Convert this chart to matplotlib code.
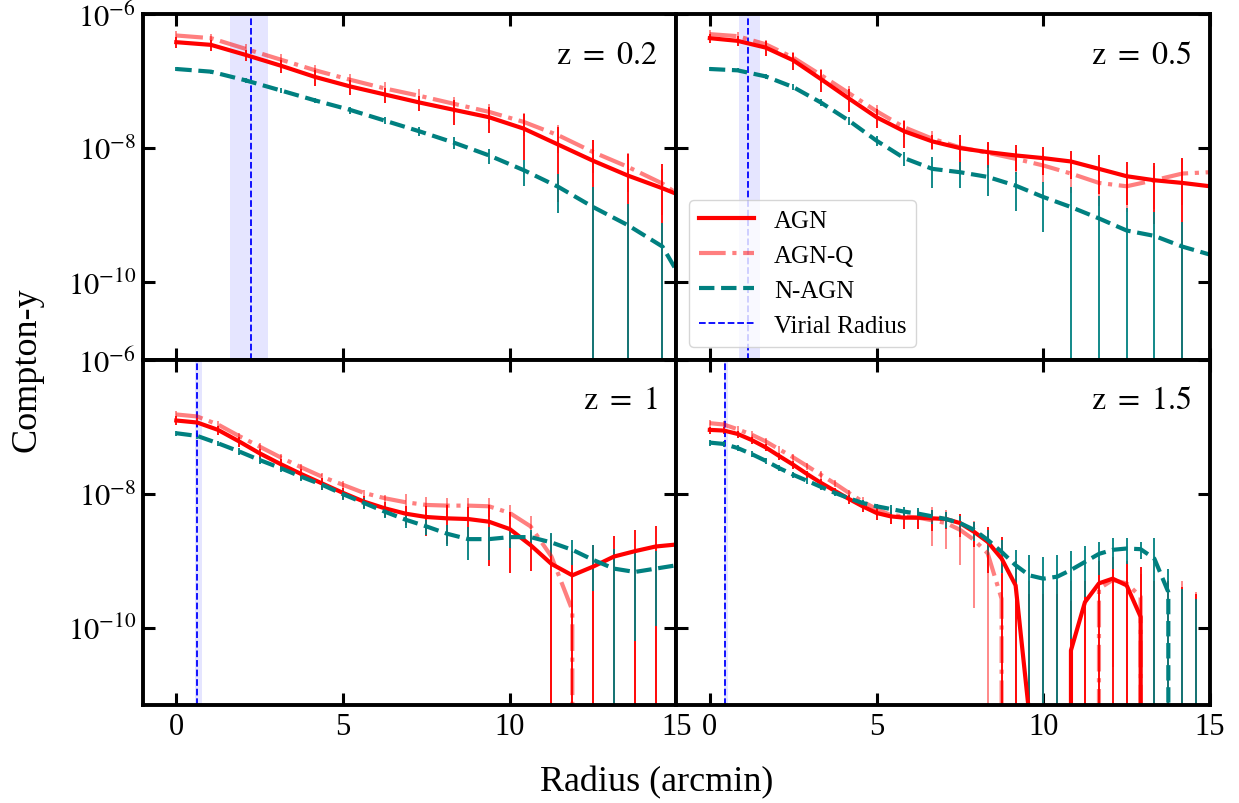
import numpy as np
import matplotlib
matplotlib.use("Agg")
import matplotlib.pyplot as plt
from matplotlib.lines import Line2D

plt.rcParams['font.family'] = ['Liberation Serif', 'DejaVu Serif']
plt.rcParams['mathtext.fontset'] = 'stix'

# redshift panels
redshifts = ['0.2', '0.5', '1', '1.5']

# radius bins (arcmin) for each panel
r_z02 = [0, 1.04, 2.08, 3.13, 4.17, 5.21, 6.25, 7.29, 8.33, 9.38, 10.42, 11.46, 12.5, 13.54, 14.58, 15.63]
r_z05 = [0, 0.83, 1.67, 2.5, 3.33, 4.17, 5.0, 5.83, 6.67, 7.5, 8.33, 9.17, 10.0, 10.83, 11.67, 12.5,
         13.33, 14.17, 15.0]
r_z1 = [0, 0.625, 1.25, 1.875, 2.5, 3.125, 3.75, 4.375, 5.0, 5.625, 6.25, 6.875, 7.5, 8.125, 8.75,
        9.375, 10.0, 10.625, 11.25, 11.875, 12.5, 13.125, 13.75, 14.375, 15.0]
r_z15 = [0, 0.42, 0.83, 1.25, 1.67, 2.08, 2.5, 2.92, 3.33, 3.75, 4.17, 4.58, 5.0, 5.42, 5.83, 6.25,
         6.67, 7.08, 7.5, 7.92, 8.33, 8.75, 9.17, 9.58, 10.0, 10.42, 10.83, 11.25, 11.67, 12.08, 12.5,
         12.92, 13.33, 13.75, 14.17, 14.58, 15.0]

nan = np.nan

# log10(Compton-y) profiles, nan = non-positive value
agn_z02 = [-6.42, -6.46, -6.61, -6.77, -6.94, -7.08, -7.20, -7.32, -7.43, -7.54, -7.71, -7.95, -8.19,
           -8.41, -8.60, -8.81]
agnq_z02 = [-6.32, -6.36, -6.52, -6.68, -6.84, -6.98, -7.11, -7.22, -7.34, -7.46, -7.61, -7.81, -8.06,
            -8.28, -8.53, -8.89]
nagn_z02 = [-6.82, -6.86, -6.99, -7.14, -7.29, -7.43, -7.59, -7.75, -7.92, -8.11, -8.33, -8.58, -8.88,
            -9.15, -9.47, -10.37]

agn_z05 = [-6.36, -6.40, -6.50, -6.69, -6.97, -7.26, -7.54, -7.75, -7.90, -8.00, -8.06, -8.11, -8.15,
           -8.20, -8.31, -8.42, -8.48, -8.52, -8.57]
agnq_z05 = [-6.30, -6.33, -6.45, -6.65, -6.91, -7.18, -7.45, -7.69, -7.86, -7.99, -8.07, -8.16, -8.26,
            -8.38, -8.52, -8.57, -8.48, -8.38, -8.36]
nagn_z05 = [-6.82, -6.84, -6.93, -7.09, -7.32, -7.59, -7.89, -8.15, -8.31, -8.36, -8.43, -8.56, -8.73,
            -8.88, -9.05, -9.23, -9.31, -9.47, -9.59]

agn_z1 = [-6.91, -6.94, -7.05, -7.22, -7.40, -7.56, -7.71, -7.85, -7.99, -8.12, -8.22, -8.30, -8.35,
          -8.37, -8.38, -8.42, -8.53, -8.77, -9.05, -9.22, -9.09, -8.94, -8.86, -8.79, -8.76]
agnq_z1 = [-6.82, -6.85, -6.97, -7.14, -7.30, -7.46, -7.61, -7.75, -7.87, -7.99, -8.07, -8.13, -8.17,
           -8.18, -8.18, -8.19, -8.29, -8.49, -8.94, -9.74, nan, nan, nan, nan, nan]
nagn_z1 = [-7.10, -7.14, -7.25, -7.37, -7.50, -7.62, -7.75, -7.87, -8.01, -8.14, -8.27, -8.39, -8.49,
           -8.60, -8.68, -8.68, -8.65, -8.65, -8.73, -8.84, -8.99, -9.12, -9.17, -9.12, -9.07]

agn_z15 = [-7.05, -7.06, -7.11, -7.20, -7.31, -7.44, -7.57, -7.71, -7.84, -7.96, -8.08, -8.19, -8.29,
           -8.34, -8.36, -8.36, -8.37, -8.38, -8.44, -8.57, -8.72, -8.97, -9.37, -11.3, nan, nan,
           -10.34, -9.62, -9.34, -9.27, -9.37, -9.84, nan, nan, nan, nan, nan]
agnq_z15 = [-6.95, -6.97, -7.04, -7.12, -7.22, -7.34, -7.46, -7.59, -7.72, -7.85, -7.99, -8.12, -8.23,
            -8.32, -8.34, -8.36, -8.40, -8.44, -8.54, -8.69, -8.89, -9.57, nan, nan, nan, nan, nan,
            nan, -9.42, -9.29, -9.34, -9.54, nan, nan, nan, nan, nan]
nagn_z15 = [-7.24, -7.26, -7.32, -7.41, -7.51, -7.62, -7.72, -7.81, -7.90, -7.99, -8.07, -8.14, -8.19,
            -8.23, -8.27, -8.30, -8.34, -8.38, -8.44, -8.54, -8.69, -8.87, -9.07, -9.22, -9.27, -9.24,
            -9.14, -9.02, -8.90, -8.84, -8.82, -8.83, -8.97, -9.47, nan, nan, nan]

# log10 of the top end of each error bar (errors are symmetric in linear y)
agn_top_z02 = [-6.35, -6.38, -6.53, -6.68, -6.84, -6.98, -7.10, -7.22, -7.28, -7.39, -7.49, -7.68, -7.88,
               -8.09, -8.24, -8.5]
agnq_top_z02 = [-6.26, -6.30, -6.45, -6.60, -6.76, -6.89, -7.02, -7.12, -7.24, -7.34, -7.47, -7.65,
                -7.88, -8.08, -8.31, -8.7]
nagn_top_z02 = [-6.79, -6.83, -6.96, -7.10, -7.25, -7.38, -7.54, -7.69, -7.84, -8.01, -8.18, -8.38,
                -8.58, -8.83, -9.12, -10.0]

agn_top_z05 = [-6.30, -6.33, -6.40, -6.58, -6.84, -7.12, -7.42, -7.59, -7.81, -7.81, -7.91, -7.96,
               -7.99, -8.04, -8.11, -8.21, -8.23, -8.15, -8.27]
agnq_top_z05 = [-6.24, -6.27, -6.38, -6.57, -6.82, -7.08, -7.35, -7.58, -7.74, -7.86, -7.93, -8.01,
                -8.10, -8.21, -8.33, -8.37, -8.27, -8.16, -8.14]
nagn_top_z05 = [-6.79, -6.81, -6.89, -7.05, -7.27, -7.53, -7.82, -8.06, -8.14, -8.21, -8.26, -8.36,
                -8.50, -8.58, -8.72, -8.89, -8.96, -9.10, -9.29]

agn_top_z1 = [-6.85, -6.88, -6.99, -7.15, -7.33, -7.49, -7.64, -7.77, -7.91, -8.04, -8.12, -8.18, -8.18,
              -8.17, -8.20, -8.17, -8.28, -8.57, -8.70, -8.85, -8.77, -8.63, -8.55, -8.48, -8.45]
agnq_top_z1 = [-6.77, -6.80, -6.92, -7.09, -7.25, -7.41, -7.56, -7.70, -7.82, -7.94, -8.02, -8.01,
               -8.05, -8.06, -8.06, -8.07, -8.17, -8.34, -8.6, -9.0, -9.0, -8.9, -9.0, -9.0, -9.0]
nagn_top_z1 = [-7.06, -7.10, -7.21, -7.32, -7.45, -7.57, -7.69, -7.81, -7.94, -8.07, -8.19, -8.29,
               -8.39, -8.47, -8.50, -8.50, -8.53, -8.55, -8.59, -8.69, -8.77, -8.82, -8.89, -8.85, -8.82]

agn_top_z15 = [-7.00, -7.01, -7.06, -7.15, -7.26, -7.39, -7.52, -7.66, -7.79, -7.91, -8.02, -8.12,
               -8.21, -8.25, -8.24, -8.24, -8.24, -8.27, -8.30, -8.42, -8.50, -8.65, -9.0, -9.5, -9.5,
               -9.5, -9.6, -9.3, -9.0, -8.95, -9.0, -9.1, -9.3, -9.3, -9.4, -9.5, -9.5]
agnq_top_z15 = [-6.90, -6.92, -6.99, -7.07, -7.17, -7.29, -7.41, -7.54, -7.67, -7.80, -7.94, -8.05,
                -8.15, -8.22, -8.29, -8.24, -8.20, -8.24, -8.31, -8.41, -8.55, -9.2, -9.3, -9.3, -9.3,
                -9.3, -9.3, -9.3, -9.1, -9.0, -9.0, -9.2, -9.3, -9.3, -9.3, -9.47, -9.5]
nagn_top_z15 = [-7.20, -7.22, -7.28, -7.37, -7.47, -7.58, -7.68, -7.77, -7.86, -7.95, -8.03, -8.10,
                -8.15, -8.17, -8.20, -8.22, -8.25, -8.28, -8.34, -8.42, -8.54, -8.69, -8.84, -8.91,
                -8.94, -8.92, -8.86, -8.79, -8.72, -8.67, -8.67, -8.72, -8.67, -9.12, -9.42, -9.57, -9.6]

# virial radius and its spread (arcmin)
r_vir = [2.24, 1.13, 0.62, 0.45]
r_vir_lo = [1.62, 0.87, 0.57, 0.41]
r_vir_hi = [2.74, 1.51, 0.76, 0.54]

radii = [r_z02, r_z05, r_z1, r_z15]
profiles = {
    'AGN': ([agn_z02, agn_z05, agn_z1, agn_z15], [agn_top_z02, agn_top_z05, agn_top_z1, agn_top_z15]),
    'AGN-Q': ([agnq_z02, agnq_z05, agnq_z1, agnq_z15],
              [agnq_top_z02, agnq_top_z05, agnq_top_z1, agnq_top_z15]),
    'N-AGN': ([nagn_z02, nagn_z05, nagn_z1, nagn_z15],
              [nagn_top_z02, nagn_top_z05, nagn_top_z1, nagn_top_z15]),
}
styles = {
    'AGN': dict(color='red', ls='-', alpha=1.0),
    'AGN-Q': dict(color='red', ls='-.', alpha=0.5),
    'N-AGN': dict(color='teal', ls='--', alpha=1.0),
}

fig = plt.figure(figsize=(12.39, 8.04), dpi=100)
axes = fig.subplots(2, 2, sharex=True, sharey=True, gridspec_kw=dict(wspace=0, hspace=0))
fig.subplots_adjust(left=0.1154, right=0.9766, top=0.9813, bottom=0.1219)

for k, ax in enumerate(axes.flat):
    ax.set_yscale('log')
    r = np.array(radii[k])
    for name in ['AGN', 'AGN-Q', 'N-AGN']:
        logy = np.array(profiles[name][0][k], dtype=float)
        top = 10 ** np.array(profiles[name][1][k])
        y = np.where(np.isnan(logy), 0.0, 10 ** np.nan_to_num(logy))
        err = top - y
        st = styles[name]
        ax.errorbar(r, y, yerr=err, color=st['color'], ls=st['ls'], lw=3, elinewidth=1.3,
                    capsize=0, alpha=st['alpha'])
    ax.axvspan(r_vir_lo[k], r_vir_hi[k], color='blue', alpha=0.1, lw=0)
    ax.axvline(r_vir[k], color='blue', ls='--', lw=1.3)
    ax.text(0.965, 0.88, r'$\mathrm{z\ =\ ' + redshifts[k] + '}$', transform=ax.transAxes,
            ha='right', va='center', fontsize=23)

    ax.set_xlim(-1, 15)
    ax.set_ylim(7e-12, 1e-6)
    ax.set_xticks([0, 5, 10, 15])
    ax.set_yticks([1e-6, 1e-8, 1e-10])
    ax.set_yticklabels([r'$10^{-6}$', r'$10^{-8}$', r'$10^{-10}$'])
    ax.yaxis.set_minor_locator(matplotlib.ticker.NullLocator())
    ax.tick_params(which='both', direction='in', top=True, right=True, length=8.5, width=2.2,
                   labelsize=22, pad=5)
    for sp in ax.spines.values():
        sp.set_linewidth(2.8)

handles = [
    Line2D([], [], color='red', ls='-', lw=3),
    Line2D([], [], color='red', ls='-.', lw=3, alpha=0.5),
    Line2D([], [], color='teal', ls='--', lw=3),
    Line2D([], [], color='blue', ls='--', lw=1.3),
]
labels = ['AGN', 'AGN-Q', 'N-AGN', 'Virial Radius']
axes[0, 1].legend(handles, labels, loc='lower left', fontsize=18, framealpha=0.8, handlelength=2.2)

fig.text(0.53, 0.027, 'Radius (arcmin)', ha='center', va='center', fontsize=26)
fig.text(0.022, 0.54, 'Compton-y', ha='center', va='center', rotation=90, fontsize=26)

fig.savefig('out.png', dpi=100)
